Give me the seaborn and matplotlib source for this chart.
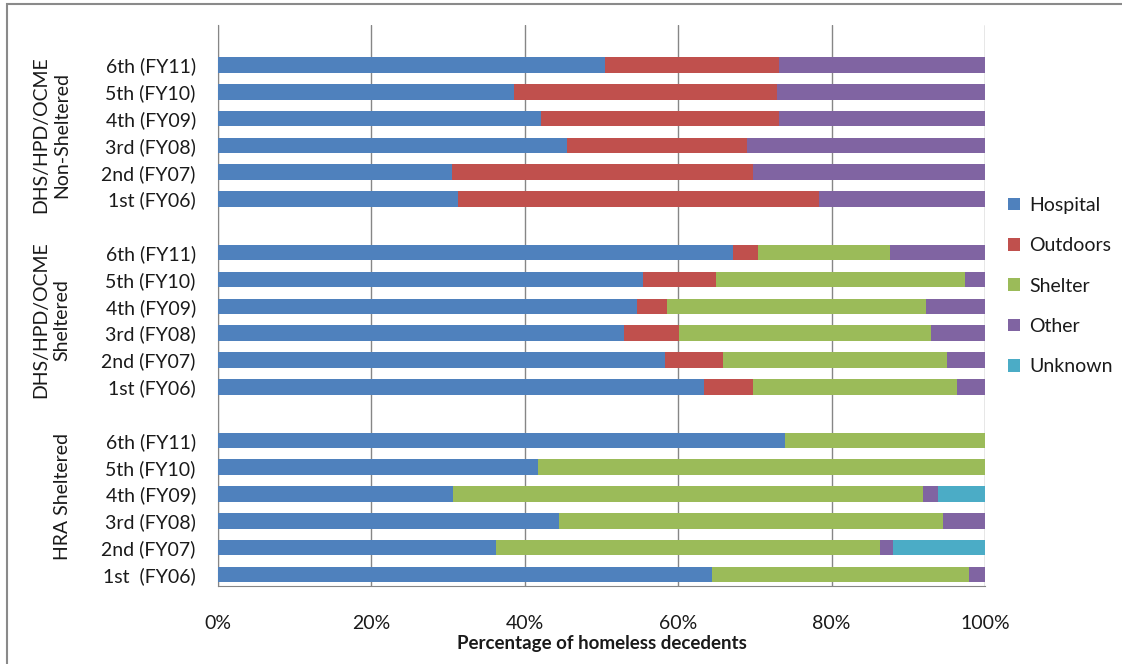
import pandas as pd
import seaborn as sns
import matplotlib.pyplot as plt
from matplotlib.patches import Patch, Rectangle
from matplotlib.transforms import blended_transform_factory

# Cycle labels, top to bottom within each group
cycles = ["6th (FY11)", "5th (FY10)", "4th (FY09)", "3rd (FY08)", "2nd (FY07)", "1st (FY06)"]
hra_cycles = ["6th (FY11)", "5th (FY10)", "4th (FY09)", "3rd (FY08)", "2nd (FY07)", "1st  (FY06)"]

groups = ["DHS/HPD/OCME\nNon-Sheltered", "DHS/HPD/OCME\nSheltered", "HRA Sheltered"]
places = ["Hospital", "Outdoors", "Shelter", "Other", "Unknown"]
colors = ["#4F81BD", "#C0504D", "#9BBB59", "#8064A2", "#4BACC6"]

# Percentages per place (rows follow `cycles`, top to bottom)
non_sheltered = {
    "Hospital": [50.5, 38.6, 42.1, 45.5, 30.5, 31.3],
    "Outdoors": [22.7, 34.3, 31.0, 23.5, 39.2, 47.1],
    "Shelter":  [0, 0, 0, 0, 0, 0],
    "Other":    [26.8, 27.1, 26.9, 31.0, 30.3, 21.6],
    "Unknown":  [0, 0, 0, 0, 0, 0],
}
sheltered = {
    "Hospital": [67.2, 55.4, 54.6, 52.9, 58.3, 63.3],
    "Outdoors": [3.2, 9.5, 3.9, 7.2, 7.6, 6.4],
    "Shelter":  [17.2, 32.5, 33.8, 32.8, 29.1, 26.6],
    "Other":    [12.4, 2.6, 7.7, 7.1, 5.0, 3.7],
    "Unknown":  [0, 0, 0, 0, 0, 0],
}
hra_sheltered = {
    "Hospital": [73.9, 41.7, 30.6, 44.5, 36.3, 64.4],
    "Outdoors": [0, 0, 0, 0, 0, 0],
    "Shelter":  [26.1, 58.3, 61.3, 50.0, 50.0, 33.5],
    "Other":    [0, 0, 2.0, 5.5, 1.7, 2.1],
    "Unknown":  [0, 0, 6.1, 0, 12.0, 0],
}

# Build long table with one key per row, plus spacer rows between groups
records = []
order = []
tick_labels = []
for gi, (gdata, labels) in enumerate(zip([non_sheltered, sheltered, hra_sheltered],
                                         [cycles, cycles, hra_cycles])):
    if gi > 0:
        order.append(f"spacer{gi}")
        tick_labels.append("")
    for ri, lab in enumerate(labels):
        key = f"g{gi}|{lab}"
        order.append(key)
        tick_labels.append(lab)
        cum = 0.0
        for p in places:
            cum += gdata[p][ri]
            records.append({"row": key, "place": p, "cum": cum})
df = pd.DataFrame(records)

sns.set_style("white")
plt.rcParams["font.family"] = ["Lato", "DejaVu Sans"]

fig = plt.figure(figsize=(11.22, 6.64), dpi=100)
ax = fig.add_axes([218 / 1122, 1 - 586 / 664, (985 - 218) / 1122, (586 - 25) / 664])

# Overlay cumulative bars, widest first
for p, c in reversed(list(zip(places, colors))):
    sns.barplot(data=df[df["place"] == p], x="cum", y="row", order=order,
                orient="h", color=c, width=0.58, linewidth=0, saturation=1,
                ax=ax, zorder=3)

ax.set_xlim(0, 100)
ax.set_ylim(len(order) - 1 + 0.43, -1.49)
ax.set_xticks([0, 20, 40, 60, 80, 100])
ax.set_xticklabels([f"{v}%" for v in [0, 20, 40, 60, 80, 100]])
ax.set_yticks(range(len(order)))
ax.set_yticklabels(tick_labels)
ax.set_ylabel("")
ax.set_xlabel("Percentage of homeless decedents", fontsize=13.5, fontweight="bold",
              color="#1a1a1a", labelpad=2)
ax.tick_params(axis="x", length=8, color="#868686", labelsize=14, labelcolor="#1a1a1a", pad=13)
ax.tick_params(axis="y", length=0, labelsize=14, labelcolor="#1a1a1a", pad=16)
ax.xaxis.grid(True, color="#868686", linewidth=1, zorder=0)
ax.set_axisbelow(True)
for side in ["top", "right"]:
    ax.spines[side].set_visible(False)
ax.spines["left"].set_color("#868686")
ax.spines["bottom"].set_color("#868686")

# Group labels on the left
trans = blended_transform_factory(fig.transFigure, ax.transData)
ax.text(51 / 1122, 2.6, groups[0], rotation=90, ha="center", va="center",
        fontsize=14, color="#1a1a1a", transform=trans, linespacing=1.3)
ax.text(51 / 1122, 9.5, groups[1], rotation=90, ha="center", va="center",
        fontsize=14, color="#1a1a1a", transform=trans, linespacing=1.3)
ax.text(62 / 1122, 16.1, groups[2], rotation=90, ha="center", va="center",
        fontsize=14, color="#1a1a1a", transform=trans)

# Legend
handles = [Patch(facecolor=c, edgecolor="none", label=p) for p, c in zip(places, colors)]
fig.legend(handles=handles, loc="center left", bbox_to_anchor=(990 / 1122, 1 - 286 / 664),
           frameon=False, fontsize=14, handlelength=0.65, handleheight=0.65,
           handletextpad=0.45, labelspacing=1.2, labelcolor="#1a1a1a")

# Chart-area border
fig.patches.append(Rectangle((7 / 1122, -0.1), 1.2, 1 - 4 / 664 + 0.1, transform=fig.transFigure,
                             fill=False, edgecolor="#8a8a8a", linewidth=1.5))

fig.savefig("out.png", dpi=100)
